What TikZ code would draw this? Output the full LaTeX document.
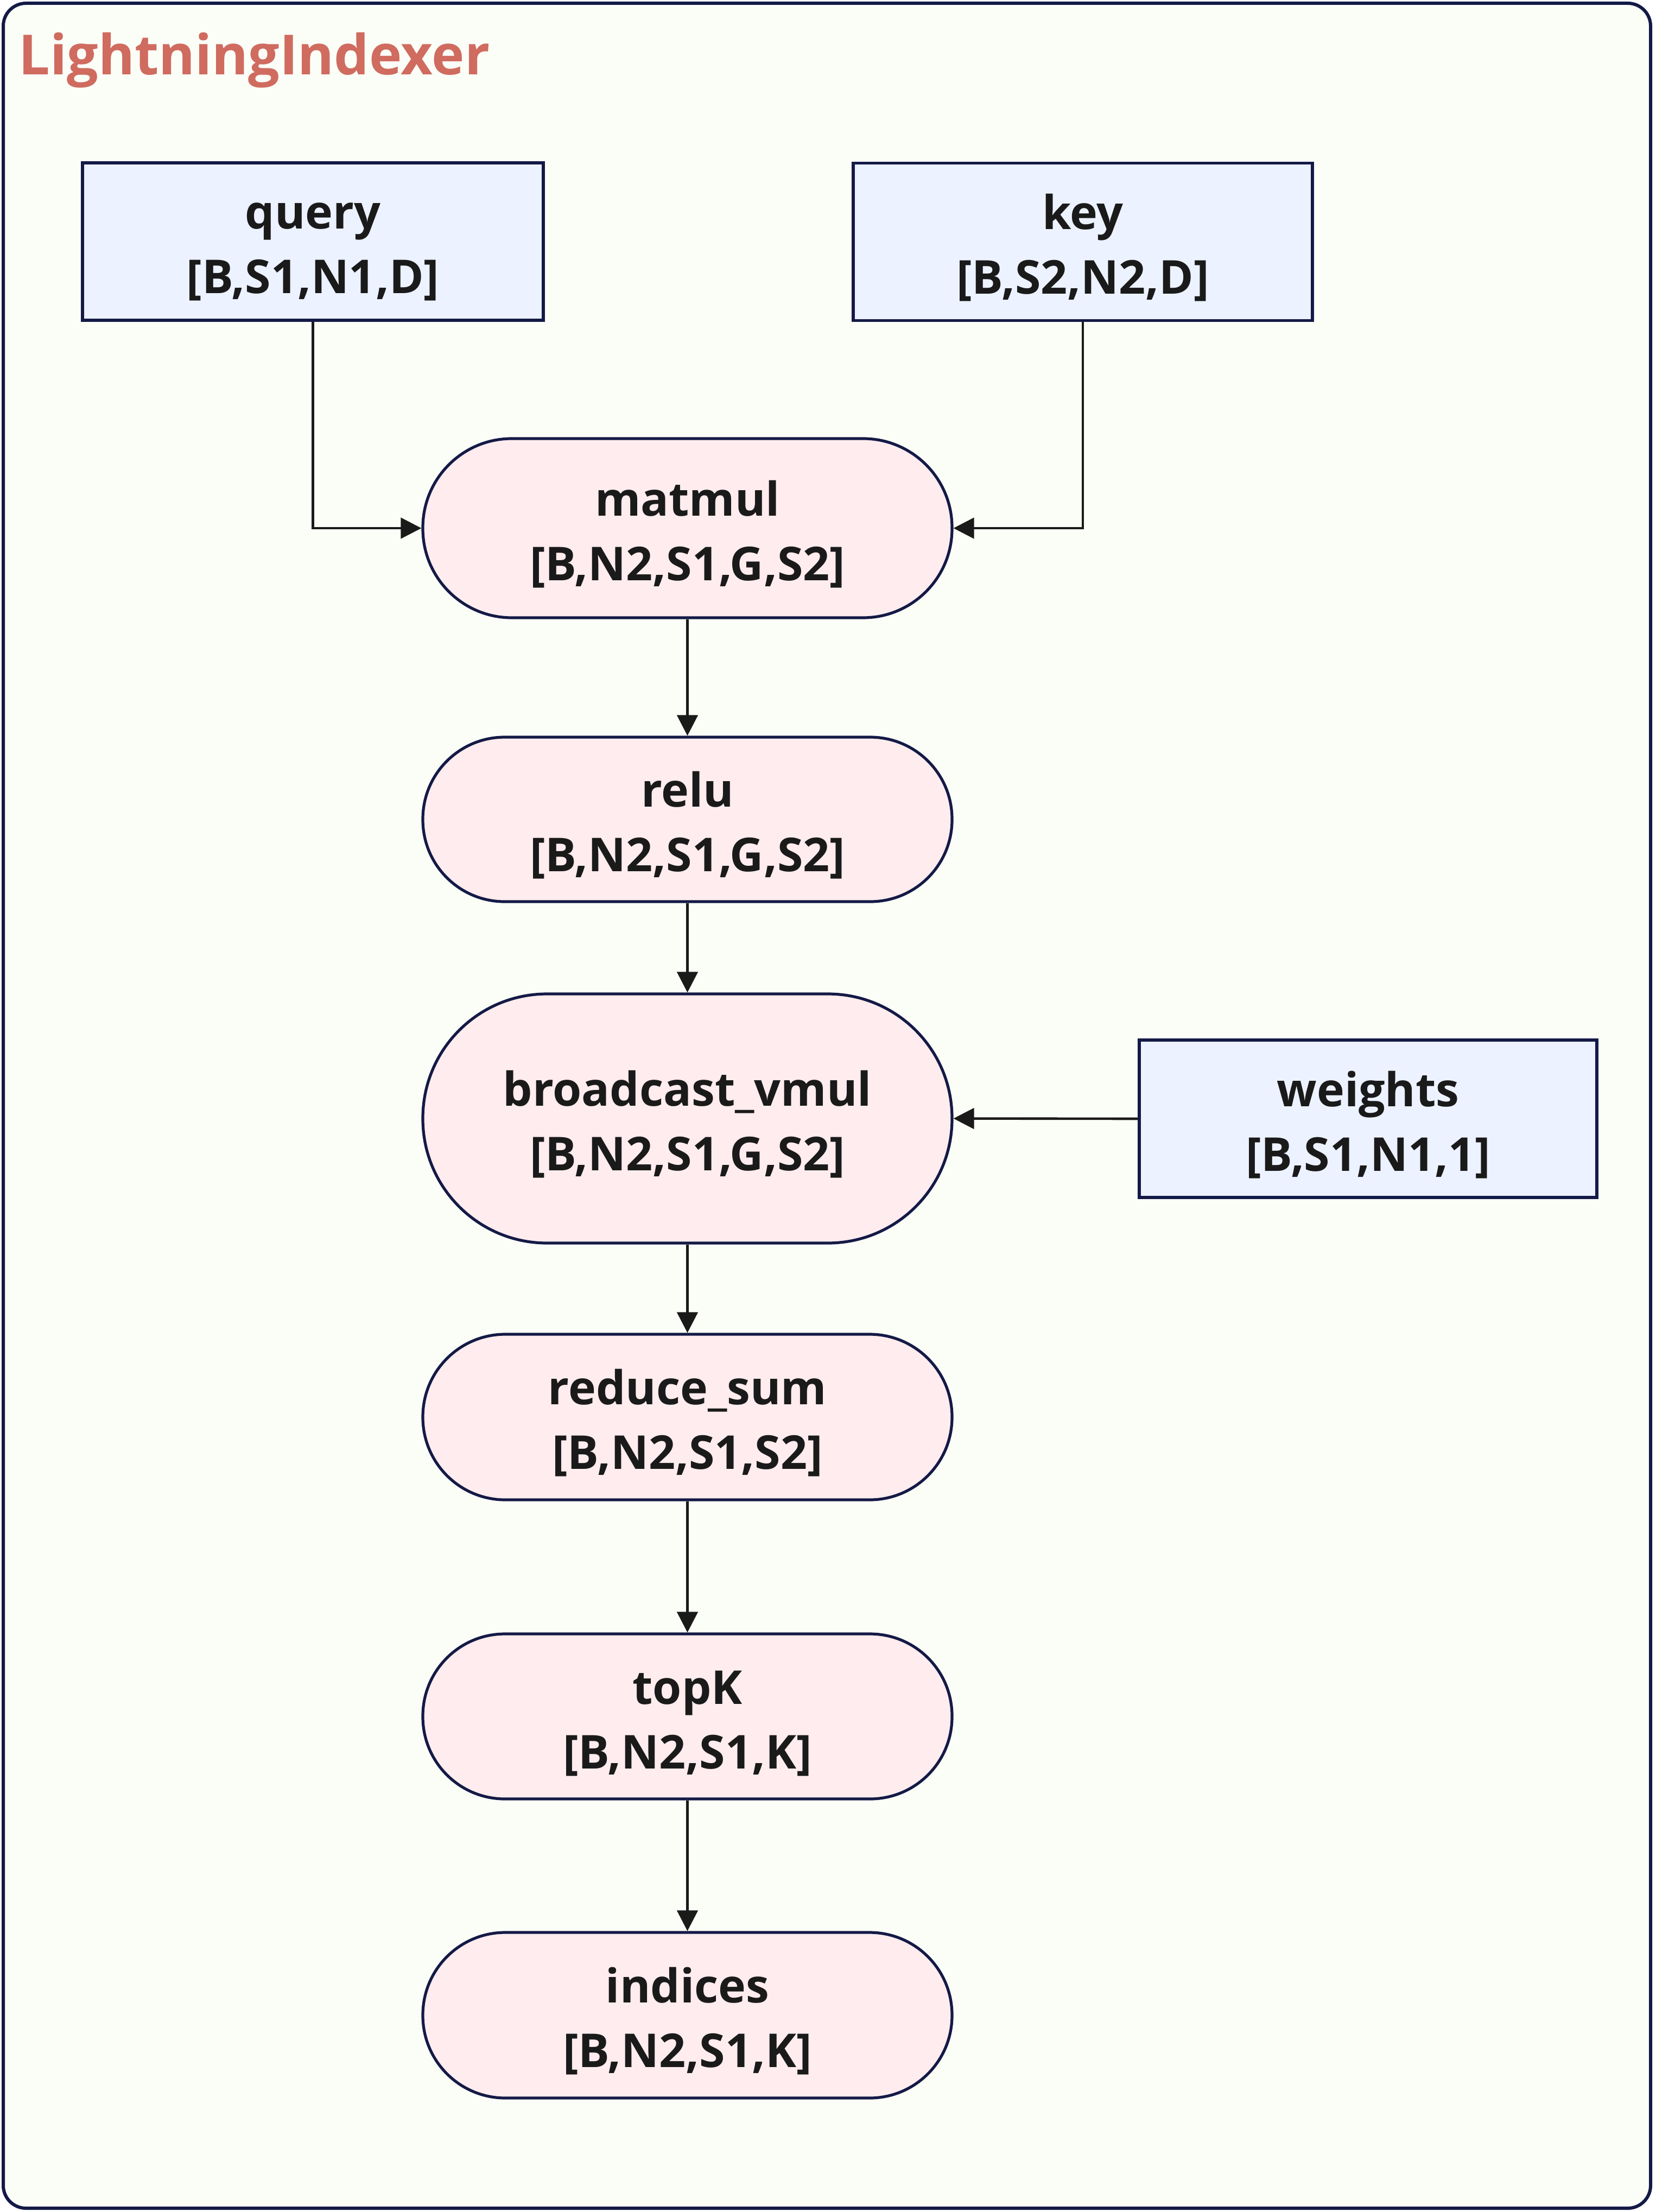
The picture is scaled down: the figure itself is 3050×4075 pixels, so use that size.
\documentclass[tikz,border=0pt]{standalone}
\usepackage{fontspec}
\setmainfont{Open Sans}
\usetikzlibrary{arrows.meta}
\definecolor{bgc}{HTML}{FBFDF7}
\definecolor{framec}{HTML}{141A46}
\definecolor{titlec}{HTML}{D06B5F}
\definecolor{bluef}{HTML}{ECF2FF}
\definecolor{pinkf}{HTML}{FFECEE}
\definecolor{linec}{HTML}{1A1A1A}
\newcommand\twolines[2]{\rule{0pt}{18.25pt}#1\\\smash{#2}}
\begin{document}
\begin{tikzpicture}[x=0.25pt,y=-0.25pt,
  lbl/.style={font=\bfseries\fontsize{21.5}{29.75}\selectfont, text=linec, align=center, inner sep=0pt},
  tensor/.style={lbl, draw=framec, line width=1.3pt, fill=bluef, minimum height=72.5pt},
  op/.style={lbl, draw=framec, line width=1.3pt, fill=pinkf, minimum width=243.75pt},
  conn/.style={draw=linec, line width=1.15pt, -{Triangle[length=9.5pt,width=9.5pt]}}
]
\fill[white] (0,0) rectangle (3050,4075);
\draw[framec, fill=bgc, line width=1.5pt, rounded corners=10.5pt] (6,6) rectangle (3041,4068);
\node[anchor=base west, inner sep=0pt, text=titlec, font=\bfseries\fontsize{25.5}{30}\selectfont] (title) at (34,138) {LightningIndexer};

\node[tensor, minimum width=212.25pt] (query) at (576.5,445) {\twolines{query}{[B,S1,N1,D]}};
\node[tensor, minimum width=211.5pt] (key) at (1995,445.5) {\twolines{key}{[B,S2,N2,D]}};
\node[tensor, minimum width=210.75pt] (weights) at (2520.5,2061) {\twolines{weights}{[B,S1,N1,1]}};

\node[op, minimum height=82.5pt, rounded corners=41pt] (matmul) at (1266.5,973) {\twolines{matmul}{[B,N2,S1,G,S2]}};
\node[op, minimum height=75.75pt, rounded corners=37.7pt] (relu) at (1266.5,1509.5) {\twolines{relu}{[B,N2,S1,G,S2]}};
\node[op, minimum height=114.75pt, rounded corners=57.2pt] (bvmul) at (1266.5,2060.5) {\twolines{broadcast\_vmul}{[B,N2,S1,G,S2]}};
\node[op, minimum height=76.25pt, rounded corners=38pt] (rsum) at (1266.5,2610.5) {\twolines{reduce\_sum}{[B,N2,S1,S2]}};
\node[op, minimum height=76pt, rounded corners=37.8pt] (topk) at (1266.5,3162) {\twolines{topK}{[B,N2,S1,K]}};
\node[op, minimum height=76.25pt, rounded corners=38pt] (indices) at (1266.5,3712.5) {\twolines{indices}{[B,N2,S1,K]}};

\draw[conn] (query.south) |- (matmul.west);
\draw[conn] (key.south) |- (matmul.east);
\draw[conn] (matmul.south) -- (relu.north);
\draw[conn] (relu.south) -- (bvmul.north);
\draw[conn] (weights.west) -- (bvmul.east);
\draw[conn] (bvmul.south) -- (rsum.north);
\draw[conn] (rsum.south) -- (topk.north);
\draw[conn] (topk.south) -- (indices.north);
\end{tikzpicture}
\end{document}
